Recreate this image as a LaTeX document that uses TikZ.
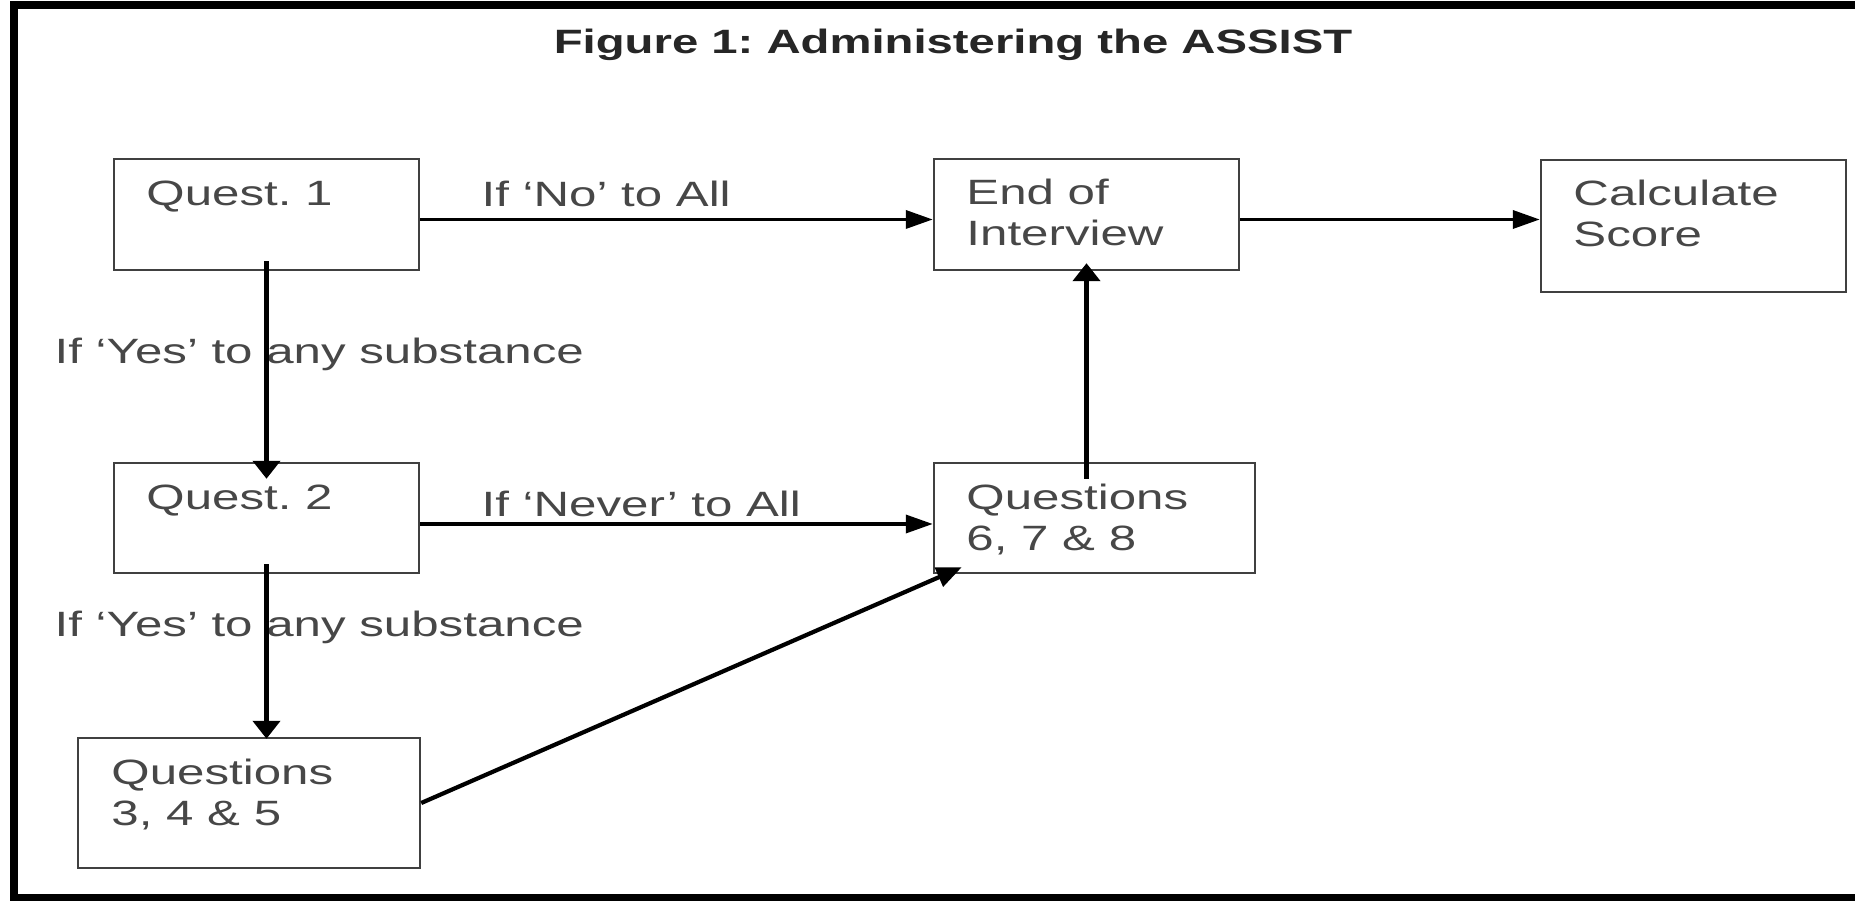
\documentclass[tikz,border=0pt]{standalone}
\usepackage{fontspec}
\newfontfamily\figfont[FakeStretch=1.4]{Liberation Sans}
\usetikzlibrary{arrows.meta,calc,fit}
\definecolor{textgray}{HTML}{474747}
\definecolor{boxgray}{HTML}{404040}
\definecolor{titlegray}{HTML}{262626}
\frenchspacing

\tikzset{
  box/.style={draw=boxgray, line width=0.7pt, inner sep=0pt},
  boxtext/.style={anchor=north west, inner sep=0pt, align=left, text=textgray,
    font=\figfont\fontsize{10pt}{11.5pt}\selectfont},
  flowlabel/.style={anchor=base west, inner sep=0pt, text=textgray,
    font=\figfont\fontsize{10pt}{12pt}\selectfont},
  harrow/.style={line width=1pt, -{Triangle[length=0.27cm,width=0.18cm]}},
  varrow/.style={line width=1.4pt, -{Triangle[length=0.18cm,width=0.27cm]}},
  darrow/.style={line width=1.2pt, -{Triangle[length=0.25cm,width=0.2cm]}},
  frame/.style={line width=0.085cm}
}

\begin{document}
\begin{tikzpicture}[x=0.01cm,y=-0.01cm]
\useasboundingbox (0,0) rectangle (1855,901);
\draw[frame] (1870,5) -- (14,5) -- (14,898) -- (1870,898);
\node[anchor=base, inner sep=0pt, text=titlegray,
  font=\figfont\bfseries\fontsize{9.6pt}{12pt}\selectfont] (title) at (953,54) {Figure 1: Administering the ASSIST};

% boxes
\node[box, fit={(114,159) (419,270)}] (q1) {};
\node[box, fit={(114,463) (419,573)}] (q2) {};
\node[box, fit={(78,738) (420,868)}] (q345) {};
\node[box, fit={(934,159) (1239,270)}] (endint) {};
\node[box, fit={(934,463) (1255,573)}] (q678) {};
\node[box, fit={(1541,160) (1846,292)}] (score) {};

\node[boxtext] (q1t) at ($(q1.north west)+(33,22)$) {Quest. 1};
\node[boxtext] (q2t) at ($(q2.north west)+(33,22)$) {Quest. 2};
\node[boxtext] (q345t) at ($(q345.north west)+(34,22)$) {Questions\\3, 4 \& 5};
\node[boxtext] (endintt) at ($(endint.north west)+(33,21)$) {End of\\Interview};
\node[boxtext] (q678t) at ($(q678.north west)+(33,22)$) {Questions\\6, 7 \& 8};
\node[boxtext] (scoret) at ($(score.north west)+(33,21)$) {Calculate\\Score};

% labels
\node[flowlabel] (nolbl) at (481,207) {If ‘No’ to All};
\node[flowlabel] (neverlbl) at (481,517) {If ‘Never’ to All};
\node[flowlabel] (yeslbla) at (54,364) {If ‘Yes’ to any substance};
\node[flowlabel] (yeslblb) at (54,637) {If ‘Yes’ to any substance};

% connectors
\draw[harrow] ($(q1.east)+(0,5)$) -- ($(endint.west)+(0,5)$);
\draw[harrow] ($(endint.east)+(0,5)$) -- ($(score.west |- endint.east)+(0,5)$);
\draw[harrow] ($(q2.east)+(0,6)$) -- ($(q678.west)+(0,6)$);
\draw[varrow] ($(q1.south)+(0,-10)$) -- ($(q2.north)+(0,17)$);
\draw[varrow] ($(q2.south)+(0,-10)$) -- ($(q2.south |- q345.north)+(0,2)$);
\draw[varrow] ($(endint.south |- q678.north)+(0,17)$) -- ($(endint.south)+(0,-8)$);
\draw[darrow] (q345.east) -- ($(q678.south west)+(29,-7)$);
\end{tikzpicture}
\end{document}
